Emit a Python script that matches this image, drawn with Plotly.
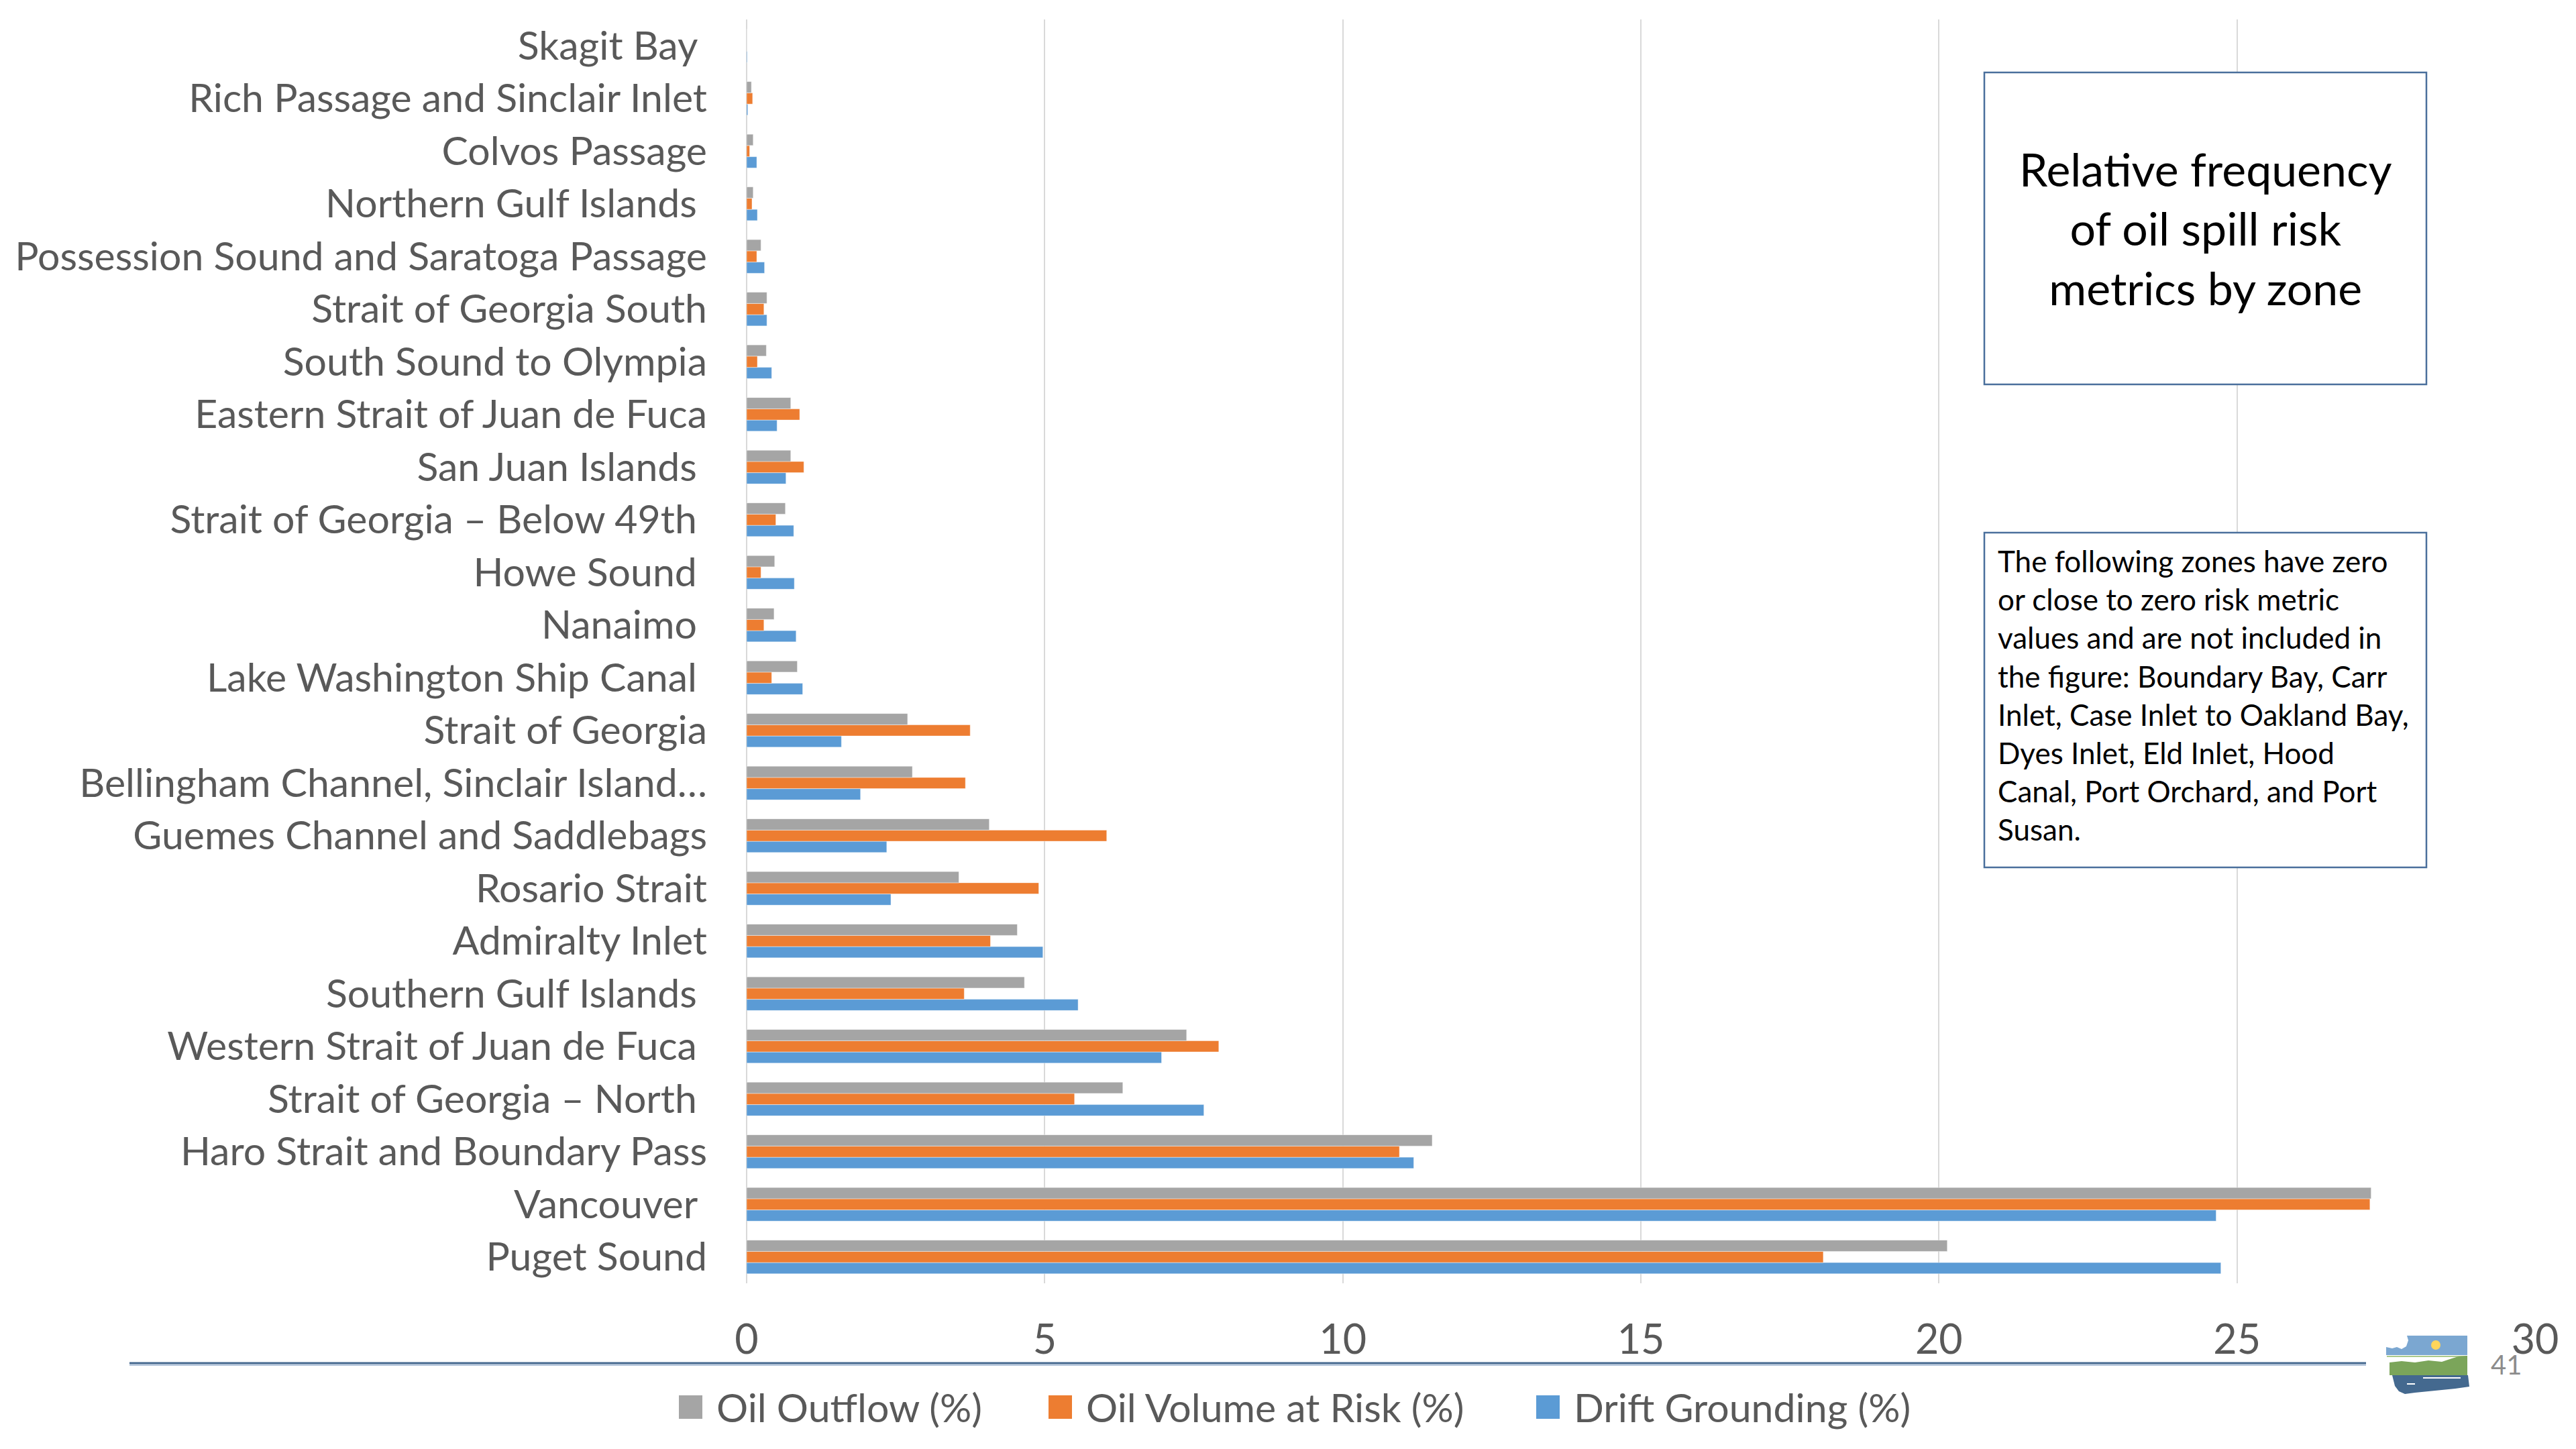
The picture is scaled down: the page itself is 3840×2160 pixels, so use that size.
import plotly.graph_objects as go

# Zones, listed from the bottom of the chart to the top
zones = [
    "Puget Sound",
    "Vancouver\u00a0",
    "Haro Strait and Boundary Pass",
    "Strait of Georgia \u2013 North\u00a0",
    "Western Strait of Juan de Fuca\u00a0",
    "Southern Gulf Islands\u00a0",
    "Admiralty Inlet",
    "Rosario Strait",
    "Guemes Channel and Saddlebags",
    "Bellingham Channel, Sinclair Island\u2026",
    "Strait of Georgia",
    "Lake Washington Ship Canal\u00a0",
    "Nanaimo\u00a0",
    "Howe Sound\u00a0",
    "Strait of Georgia \u2013 Below 49th\u00a0",
    "San Juan Islands\u00a0",
    "Eastern Strait of Juan de Fuca",
    "South Sound to Olympia",
    "Strait of Georgia South",
    "Possession Sound and Saratoga Passage",
    "Northern Gulf Islands\u00a0",
    "Colvos Passage",
    "Rich Passage and Sinclair Inlet",
    "Skagit Bay\u00a0",
]

oil_outflow = [20.14, 27.25, 11.50, 6.31, 7.38, 4.66, 4.54, 3.56, 4.07, 2.78, 2.70,
               0.85, 0.46, 0.47, 0.65, 0.74, 0.74, 0.33, 0.34, 0.24, 0.11, 0.11, 0.08, 0.0]
oil_volume_at_risk = [18.06, 27.23, 10.95, 5.50, 7.92, 3.65, 4.09, 4.90, 6.04, 3.67, 3.75,
                      0.42, 0.29, 0.24, 0.49, 0.96, 0.89, 0.18, 0.29, 0.17, 0.09, 0.05, 0.10, 0.0]
drift_grounding = [24.73, 24.65, 11.19, 7.67, 6.96, 5.56, 4.97, 2.42, 2.35, 1.91, 1.59,
                   0.94, 0.83, 0.80, 0.79, 0.66, 0.51, 0.42, 0.34, 0.30, 0.18, 0.17, 0.02, 0.01]

series_names = ["Oil Outflow (%)", "Oil Volume at Risk (%)", "Drift Grounding (%)"]
series_colors = ["#A5A5A5", "#ED7D31", "#5B9BD5"]

x_ticks = [0, 5, 10, 15, 20, 25, 30]

note_title = "Relative frequency<br>of oil spill risk<br>metrics by zone"
note_text = ("The following zones have zero<br>or close to zero risk metric<br>"
             "values and are not included in<br>the figure: Boundary Bay, Carr<br>"
             "Inlet, Case Inlet to Oakland Bay,<br>Dyes Inlet, Eld Inlet, Hood<br>"
             "Canal, Port Orchard, and Port<br>Susan.")
page_number = "41"

W, H = 3840, 2160
PL, PR, PT, PB = 1113, 3779, 29, 1913  # plot-area edges in pixels
FONT = "Lato, 'Open Sans', sans-serif"
LABEL_COLOR = "#595959"


def px(x):
    return (x - PL) / (PR - PL)


def py(y):
    return (PB - y) / (PB - PT)


def path(points):
    return "M " + " L ".join(f"{px(a):.5f},{py(b):.5f}" for a, b in points) + " Z"


fig = go.Figure()
# drawn bottom-to-top within each group: blue, orange, gray
for name, vals, col in [
    (series_names[2], drift_grounding, series_colors[2]),
    (series_names[1], oil_volume_at_risk, series_colors[1]),
    (series_names[0], oil_outflow, series_colors[0]),
]:
    fig.add_trace(go.Bar(
        y=zones, x=vals, name=name, orientation="h",
        marker=dict(color=col, line=dict(color="rgba(255,255,255,0.45)", width=1)),
        showlegend=False,
    ))

shapes = []
annotations = []

# Title box
shapes.append(dict(type="rect", xref="paper", yref="paper",
                   x0=px(2958), x1=px(3617), y0=py(573), y1=py(108),
                   line=dict(color="#4A6F9C", width=2.5), fillcolor="white", layer="above"))
annotations.append(dict(xref="paper", yref="paper", x=px(3288), y=py(340),
                        text=note_title, showarrow=False, xanchor="center", yanchor="middle",
                        align="center", font=dict(family=FONT, size=68, color="black")))

# Note box
shapes.append(dict(type="rect", xref="paper", yref="paper",
                   x0=px(2958), x1=px(3617), y0=py(1293), y1=py(794),
                   line=dict(color="#4A6F9C", width=2.5), fillcolor="white", layer="above"))
annotations.append(dict(xref="paper", yref="paper", x=px(2976), y=py(1036),
                        text=note_text, showarrow=False, xanchor="left", yanchor="middle",
                        align="left", font=dict(family=FONT, size=44, color="black")))

# Horizontal rule under the axis
shapes.append(dict(type="line", xref="paper", yref="paper",
                   x0=px(193), x1=px(3527), y0=py(2035), y1=py(2035),
                   line=dict(color="#B4C6DC", width=2)))
shapes.append(dict(type="line", xref="paper", yref="paper",
                   x0=px(193), x1=px(3527), y0=py(2032), y1=py(2032),
                   line=dict(color="#44688F", width=3)))

# Legend
legend_items = [(1012, 1066), (1563, 1617), (2290, 2344)]
for (sx, tx), name, col in zip(legend_items, series_names, series_colors):
    shapes.append(dict(type="rect", xref="paper", yref="paper",
                       x0=px(sx), x1=px(sx + 35), y0=py(2115), y1=py(2080),
                       line=dict(width=0), fillcolor=col))
    annotations.append(dict(xref="paper", yref="paper", x=px(tx), y=py(2097),
                            text=name, showarrow=False, xanchor="left", yanchor="middle",
                            font=dict(family=FONT, size=59, color=LABEL_COLOR)))

# Logo
shapes.append(dict(type="path", xref="paper", yref="paper", line=dict(width=0),
                   fillcolor="#7BA7D1",
                   path=path([(3557, 2020), (3557, 2008), (3566, 2010), (3573, 2008),
                              (3580, 2011), (3587, 2007), (3590, 1998), (3588, 1991),
                              (3678, 1991), (3678, 2020)])))
shapes.append(dict(type="circle", xref="paper", yref="paper", line=dict(width=0),
                   fillcolor="#FFD55A", x0=px(3624), x1=px(3638), y0=py(2012), y1=py(1998)))
shapes.append(dict(type="line", xref="paper", yref="paper",
                   x0=px(3558), x1=px(3678), y0=py(2022), y1=py(2022),
                   line=dict(color="#A9C98A", width=2)))
shapes.append(dict(type="path", xref="paper", yref="paper", line=dict(width=0),
                   fillcolor="#7BA55A",
                   path=path([(3562, 2050), (3562, 2031), (3580, 2029), (3600, 2031),
                              (3620, 2028), (3640, 2030), (3655, 2025), (3665, 2022),
                              (3678, 2021), (3678, 2050)])))
shapes.append(dict(type="path", xref="paper", yref="paper", line=dict(width=0),
                   fillcolor="#44698F",
                   path=path([(3566, 2050), (3679, 2050), (3681, 2067), (3660, 2070),
                              (3640, 2072), (3620, 2074), (3600, 2076), (3585, 2078),
                              (3576, 2074), (3570, 2066)])))
shapes.append(dict(type="line", xref="paper", yref="paper",
                   x0=px(3612), x1=px(3668), y0=py(2054), y1=py(2054),
                   line=dict(color="white", width=2)))
shapes.append(dict(type="line", xref="paper", yref="paper",
                   x0=px(3588), x1=px(3600), y0=py(2063), y1=py(2063),
                   line=dict(color="white", width=2)))
annotations.append(dict(xref="paper", yref="paper", x=px(3736), y=py(2034),
                        text=page_number, showarrow=False, xanchor="center", yanchor="middle",
                        font=dict(family=FONT, size=40, color="#8C8C8C")))

fig.update_layout(
    width=W, height=H,
    margin=dict(l=PL, r=W - PR, t=PT, b=H - PB, autoexpand=False),
    paper_bgcolor="white", plot_bgcolor="white",
    barmode="group", bargap=0.36, bargroupgap=0,
    font=dict(family=FONT, color=LABEL_COLOR),
    showlegend=False,
    shapes=shapes, annotations=annotations,
    xaxis=dict(range=[0, 30], tickvals=x_ticks, ticktext=[str(v) for v in x_ticks],
               showgrid=True, gridcolor="#D9D9D9", gridwidth=2,
               zeroline=True, zerolinecolor="#D9D9D9", zerolinewidth=2,
               showline=False, ticks="", ticklabelstandoff=43, automargin=False,
               tickfont=dict(family=FONT, size=61, color=LABEL_COLOR)),
    yaxis=dict(type="category", categoryorder="array", categoryarray=zones,
               showgrid=False, zeroline=False, showline=False, ticks="",
               ticklabelstandoff=58, automargin=False,
               tickfont=dict(family=FONT, size=59, color=LABEL_COLOR)),
)

fig.write_html("out.html")
